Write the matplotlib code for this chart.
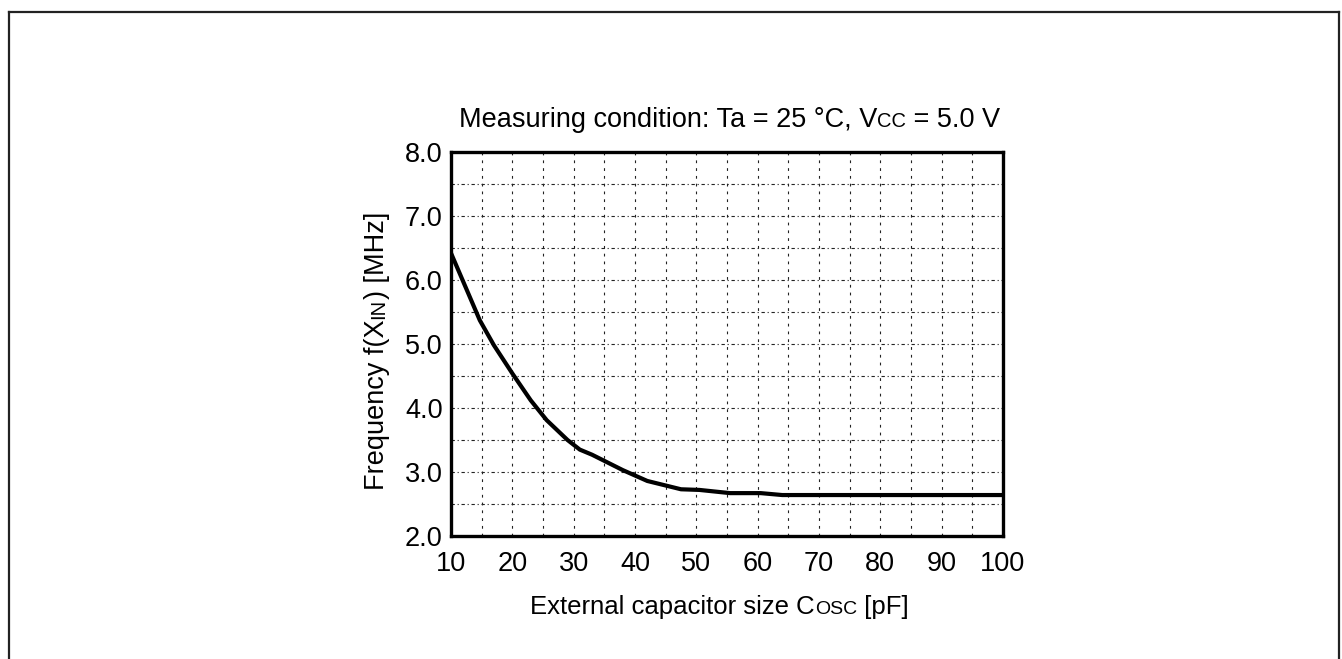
import matplotlib
matplotlib.use("Agg")
import matplotlib.pyplot as plt
from matplotlib.lines import Line2D
from matplotlib.ticker import MultipleLocator

# curve
cap_pf = [10, 14.7, 17, 20, 23, 25.6, 29, 31, 33, 38, 42, 47.5, 50.5, 55.5, 60.5, 64, 100]
freq_mhz = [6.42, 5.37, 4.98, 4.54, 4.12, 3.81, 3.5, 3.35, 3.27, 3.03, 2.86, 2.73,
            2.72, 2.67, 2.67, 2.64, 2.64]

x_ticks = [10, 20, 30, 40, 50, 60, 70, 80, 90, 100]
y_ticks = [2.0, 3.0, 4.0, 5.0, 6.0, 7.0, 8.0]

plt.rcParams["font.family"] = ["Liberation Sans", "DejaVu Sans"]

W, H = 1342, 659
fig = plt.figure(figsize=(W / 100, H / 100), dpi=100)
fig.patch.set_facecolor("white")

# outer frame (open at the bottom)
frame_kw = dict(color="#222222", lw=1.6, transform=fig.transFigure)
fig.add_artist(Line2D([9 / W, 9 / W], [0, 1 - 12 / H], **frame_kw))
fig.add_artist(Line2D([9 / W, 1339 / W], [1 - 12 / H, 1 - 12 / H], **frame_kw))
fig.add_artist(Line2D([1339 / W, 1339 / W], [0, 1 - 12 / H], **frame_kw))

ax = fig.add_axes([451 / W, 1 - 536 / H, 552 / W, 384 / H])
ax.plot(cap_pf, freq_mhz, color="black", lw=3.0, solid_joinstyle="round")

ax.set_xlim(10, 100)
ax.set_ylim(2.0, 8.0)
ax.set_xticks(x_ticks)
ax.set_yticks(y_ticks)
ax.set_xticklabels([str(v) for v in x_ticks])
ax.set_yticklabels([f"{v:.1f}" for v in y_ticks])
ax.xaxis.set_minor_locator(MultipleLocator(5))
ax.yaxis.set_minor_locator(MultipleLocator(0.5))
ax.tick_params(which="both", length=0, labelsize=19.5, colors="black")
ax.tick_params(axis="x", pad=10.5)
ax.tick_params(axis="y", pad=6)

ax.grid(True, which="both", axis="x", color="#222222", lw=0.8, ls=(0, (2.5, 4.5)))
ax.grid(True, which="both", axis="y", color="#222222", lw=0.8, ls=(0, (3, 2.5, 1, 2.5)))
ax.set_axisbelow(True)
for s in ax.spines.values():
    s.set_linewidth(2.4)
    s.set_color("black")

renderer = fig.canvas.get_renderer()


def mixed_text(x, y, parts, rotation=0):
    """Draw text pieces of different sizes one after another (pixel coords)."""
    for txt, size in parts:
        t = fig.text(x / W, y / H, txt, fontsize=size, ha="left", va="baseline",
                     rotation=rotation, rotation_mode="anchor", color="black")
        bb = t.get_window_extent(renderer)
        if rotation == 0:
            x += bb.width
        else:
            y += bb.height


mixed_text(459, H - 127, [("Measuring condition: Ta = 25 \u00b0C, V", 19.5),
                          ("CC", 14.5), (" = 5.0 V", 19.5)])
mixed_text(530, H - 614, [("External capacitor size C", 18.5), ("OSC", 14),
                          (" [pF]", 18.5)])
mixed_text(384, H - 490, [("Frequency f(X", 19.5), ("IN", 14.5), (") [MHz]", 19.5)],
           rotation=90)

fig.savefig("out.png", dpi=100, facecolor="white")
